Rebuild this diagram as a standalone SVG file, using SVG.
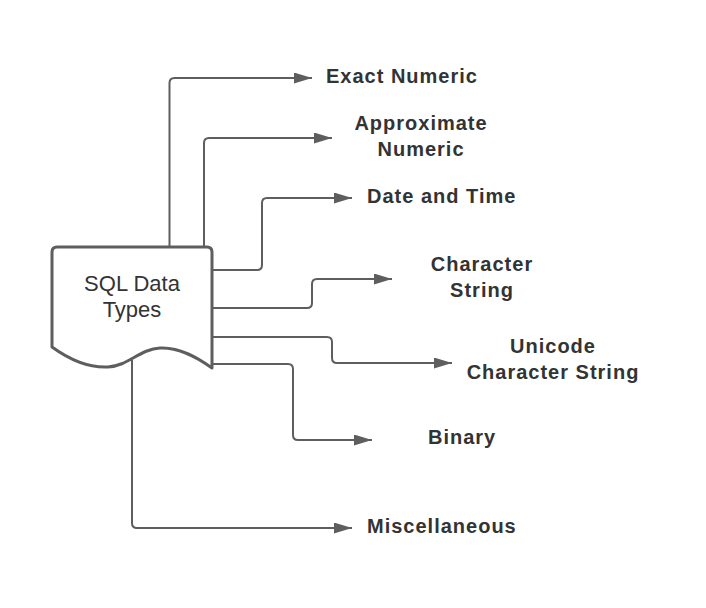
<svg xmlns="http://www.w3.org/2000/svg" width="706" height="608" viewBox="0 0 706 608">
<style>
.conn{fill:none;stroke:#5e5e5e;stroke-width:2;marker-end:url(#arr)}
.lbl{font-family:"Liberation Sans",Arial,sans-serif;font-weight:bold;font-size:20px;fill:#333;letter-spacing:1px}
.node{fill:#fff;stroke:#5e5e5e;stroke-width:3;stroke-linejoin:round}
.ntxt{font-family:"Liberation Sans",Arial,sans-serif;font-size:22px;fill:#333;text-anchor:middle}
</style>
<defs>
<marker id="arr" markerUnits="userSpaceOnUse" markerWidth="18" markerHeight="12" refX="18" refY="5.5" orient="auto">
<path d="M0,0 L18,5.5 L0,11 Z" fill="#5e5e5e"/>
</marker>
</defs>
<rect width="706" height="608" fill="#fff"/>
<g id="connectors">
<path class="conn" d="M169.5,247 V83 Q169.5,78 174.5,78 H312"/>
<path class="conn" d="M204,247 V143 Q204,138 209,138 H332"/>
<path class="conn" d="M212,270 H257 Q262,270 262,265 V203 Q262,198 267,198 H352"/>
<path class="conn" d="M212,308 H307 Q312,308 312,303 V284 Q312,279 317,279 H392"/>
<path class="conn" d="M212,337 H327 Q332,337 332,342 V358 Q332,363 337,363 H452"/>
<path class="conn" d="M212,364 H288 Q293,364 293,369 V435 Q293,440 298,440 H372"/>
<path class="conn" d="M132,360 V523 Q132,528 137,528 H352"/>
</g>
<g id="sql-data-types">
<path class="node" d="M57,247 H207 Q212,247 212,252 V368 C198,358 180,347 160,348 C140,349 128,366 108,367 C88,368 70,360 52,347 V252 Q52,247 57,247 Z"/>
<text class="ntxt" x="132" y="291">SQL Data</text>
<text class="ntxt" x="132" y="317">Types</text>
</g>
<g id="exact-numeric"><text class="lbl" x="326" y="83">Exact Numeric</text></g>
<g id="approximate-numeric"><text class="lbl" x="421" y="130" text-anchor="middle">Approximate</text><text class="lbl" x="421" y="156" text-anchor="middle">Numeric</text></g>
<g id="date-and-time"><text class="lbl" x="367" y="203">Date and Time</text></g>
<g id="character-string"><text class="lbl" x="482" y="271" text-anchor="middle">Character</text><text class="lbl" x="482" y="297" text-anchor="middle">String</text></g>
<g id="unicode-character-string"><text class="lbl" x="553" y="353" text-anchor="middle">Unicode</text><text class="lbl" x="553" y="379" text-anchor="middle">Character String</text></g>
<g id="binary"><text class="lbl" x="428" y="444">Binary</text></g>
<g id="miscellaneous"><text class="lbl" x="367" y="533">Miscellaneous</text></g>
</svg>
